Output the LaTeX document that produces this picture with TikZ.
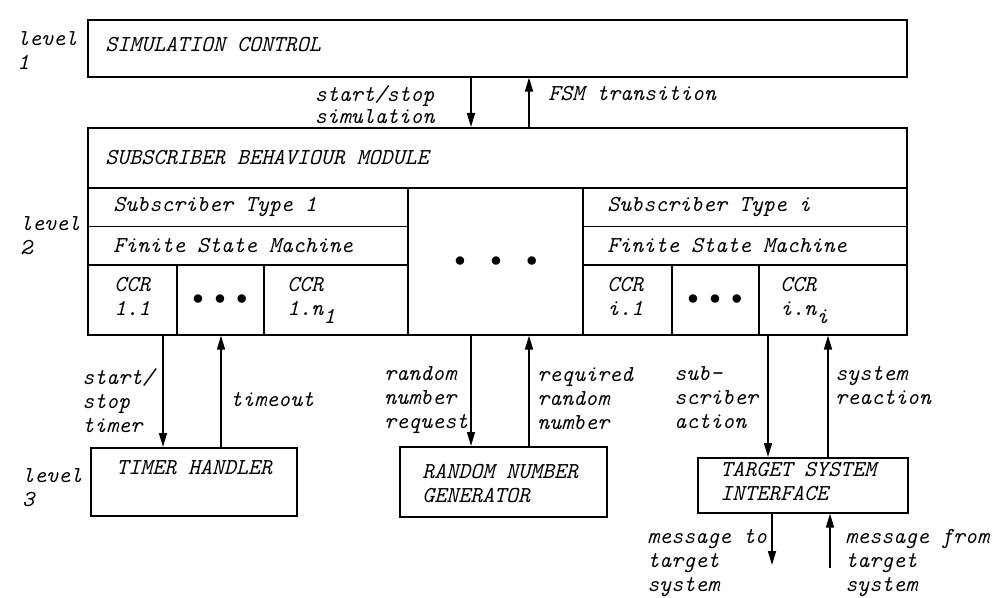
\documentclass[tikz,border=0pt]{standalone}
\usepackage{fontspec}
\usetikzlibrary{arrows.meta}

\begin{document}
\begin{tikzpicture}[
  x=0.5pt, y=-0.5pt,
  >={Triangle[length=7pt,width=4pt]},
  ln/.style   = {line width=0.8pt},
  box/.style  = {draw, ln, anchor=north west, inner sep=0pt},
  txt/.style  = {font=\ttfamily\itshape\fontsize{11.4}{12}\selectfont, anchor=west, inner sep=0pt},
  lbl/.style  = {txt, align=left},
  dots/.style = {font=\fontsize{11}{12}\selectfont, inner sep=0pt},
]
\useasboundingbox (0,0) rectangle (1006,598);

%% level 1
\node[box, minimum width=409.5pt, minimum height=28.5pt] (simctl) at (87,19) {};
\node[txt] (simtxt) at (105,45) {SIMULATION CONTROL};
\node[lbl] (lv1) at (17,51) {level\\1};

%% level 2
\node[box, minimum width=409.5pt, minimum height=103.5pt] (sbm) at (87,127) {};
\draw[ln] (87,188) -- (906,188);
\draw[ln] (408,188) -- (408,334);
\draw[ln] (583,188) -- (583,334);
\draw[ln] (87,226.5) -- (408,226.5);
\draw[ln] (87,265) -- (408,265);
\draw[ln] (583,226.5) -- (906,226.5);
\draw[ln] (583,265) -- (906,265);
\foreach \cx in {177,264,672,759}
  { \draw[ln] (\cx,265) -- (\cx,334); }

\node[txt] (sbmtxt) at (105,158) {SUBSCRIBER BEHAVIOUR MODULE};
\node[txt] (type1) at (113,207) {Subscriber Type 1};
\node[txt] (fsm1)  at (113,246) {Finite State Machine};
\node[txt] (typei) at (607,207) {Subscriber Type i};
\node[txt] (fsmi)  at (607,246) {Finite State Machine};
\node[lbl] (ccr11) at (114,296) {CCR\\1.1};
\node[lbl] (ccr1n) at (287,296) {CCR\\1.n\raisebox{-4pt}[0pt][0pt]{1}};
\node[lbl] (ccri1) at (607,296) {CCR\\i.1};
\node[lbl] (ccrin) at (780,296) {CCR\\i.n\raisebox{-4pt}[0pt][0pt]{i}};
\node[dots] (dots1) at (220,300) {$\bullet\hspace{3pt}\bullet\hspace{3pt}\bullet$};
\node[dots] (dotsm) at (496,262) {$\bullet\hspace{10pt}\bullet\hspace{10pt}\bullet$};
\node[dots] (dotsi) at (715,300) {$\bullet\hspace{3pt}\bullet\hspace{3pt}\bullet$};
\node[lbl] (lv2) at (20,236) {level\\2};

\draw[ln,->] (471,0 |- simctl.south) -- (471,0 |- sbm.north);
\draw[ln,->] (529,0 |- sbm.north) -- (529,0 |- simctl.south);
\node[lbl, anchor=east] (startsim) at (435,105) {start/stop\\[-1pt]simulation};
\node[txt] (fsmtr) at (548,94) {FSM transition};

%% level 3
\node[box, minimum width=103pt, minimum height=34pt] (timer) at (90,447) {};
\node[txt] (timertxt) at (116,468) {TIMER HANDLER};
\node[lbl] (lv3) at (22,488) {level\\3};
\draw[ln,->] (163,0 |- sbm.south) -- (163,0 |- timer.north);
\draw[ln,->] (221,0 |- timer.north) -- (221,0 |- sbm.south);
\node[lbl] (sstimer) at (82,401) {start/\\stop\\timer};
\node[txt] (tmout) at (230,400) {timeout};

\node[box, minimum width=103.5pt, minimum height=35pt] (rng) at (399,446) {};
\node[lbl] (rngtxt) at (422,483.5) {RANDOM NUMBER\\GENERATOR};
\draw[ln,->] (471,0 |- sbm.south) -- (471,0 |- rng.north);
\draw[ln,->] (529,0 |- rng.north) -- (529,0 |- sbm.south);
\node[lbl] (rnreq) at (384,400) {random\\number\\request};
\node[lbl] (rnret) at (537,399) {required\\random\\number};

\node[box, minimum width=105pt, minimum height=27.5pt] (tsi) at (697,457) {};
\node[lbl] (tsitxt) at (720,482) {TARGET SYSTEM\\INTERFACE};
\draw[ln,->] (768,0 |- sbm.south) -- (768,0 |- tsi.north);
\draw[ln,->] (828,0 |- tsi.north) -- (828,0 |- sbm.south);
\node[lbl] (subact) at (674,398) {sub-\\scriber\\action};
\node[lbl] (sysreac) at (835,385.5) {system\\reaction};

%% to and from the target system
\coordinate (msgto) at (772,565);
\coordinate (msgfrom) at (830,568);
\draw[ln,->] (msgto |- tsi.south) -- (msgto);
\draw[ln,->] (msgfrom) -- (msgfrom |- tsi.south);
\node[lbl] (mtotxt) at (647,563.5) {message to\\target\\system};
\node[lbl] (mfromtxt) at (845,563) {message from\\target\\system};

\end{tikzpicture}
\end{document}
